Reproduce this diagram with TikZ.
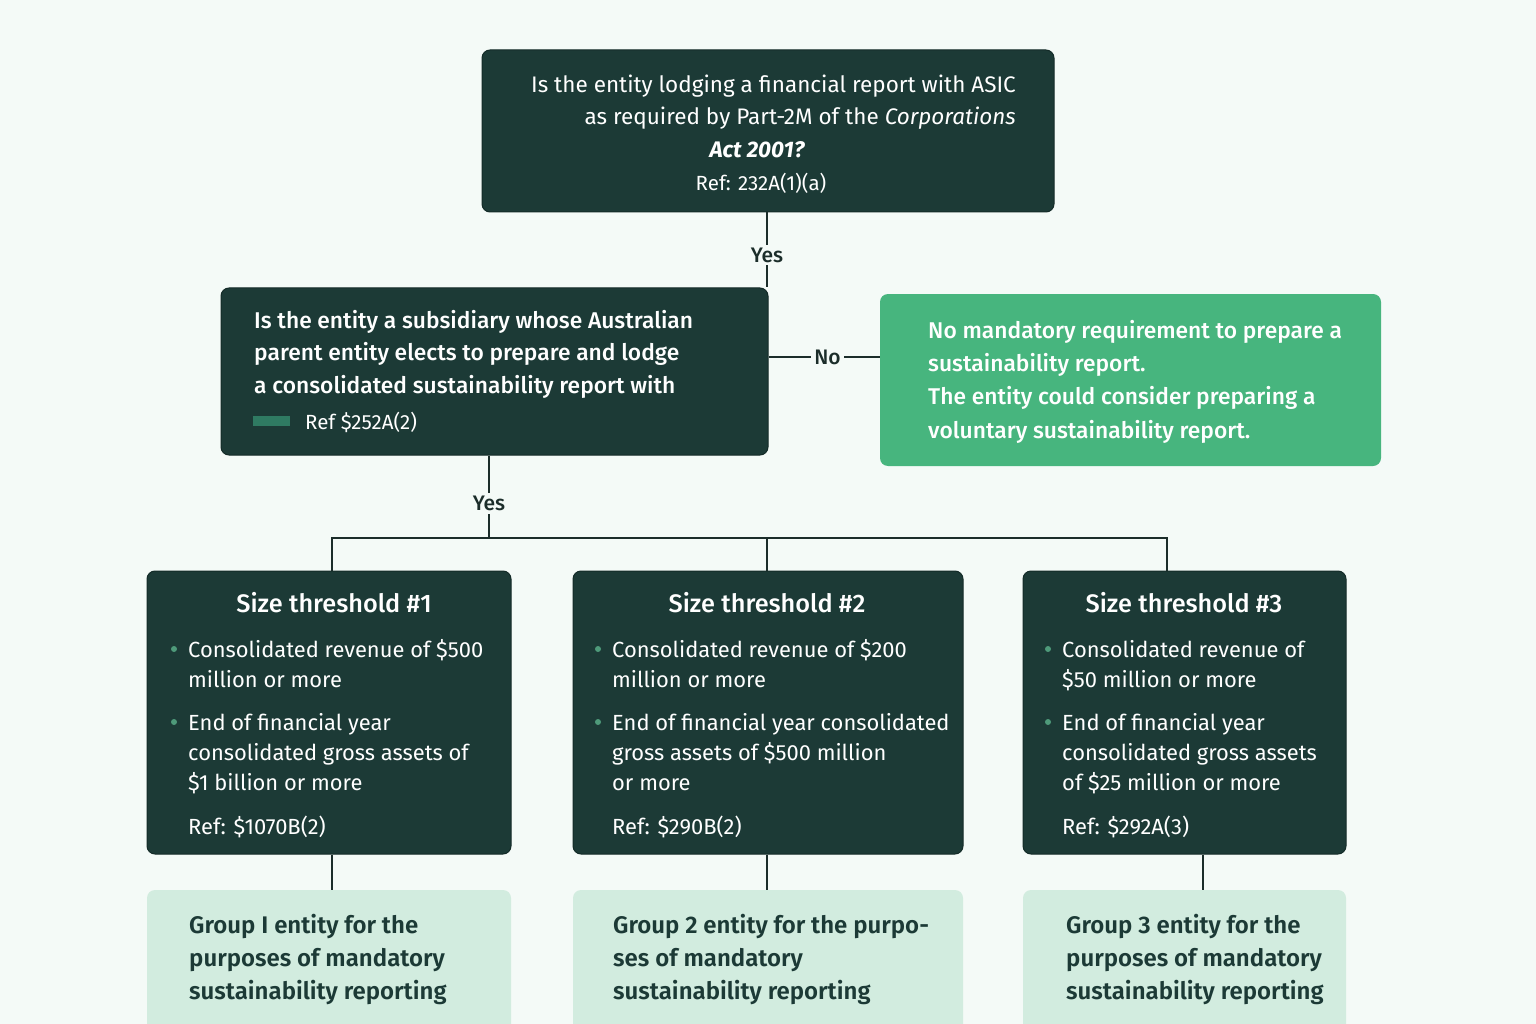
\documentclass[tikz,border=0pt]{standalone}
\usepackage{fontspec}
\setmainfont{Fira Sans}
\newfontfamily\fmed{Fira Sans Medium}
\newfontfamily\fsemi{Fira Sans SemiBold}
\definecolor{bgc}{HTML}{F4FAF7}
\definecolor{darkc}{HTML}{1C3A36}
\definecolor{darkedge}{HTML}{142B28}
\definecolor{greenc}{HTML}{47B57E}
\definecolor{lightc}{HTML}{D2ECDF}
\definecolor{linec}{HTML}{1B2D2A}
\definecolor{dotc}{HTML}{4E9A7A}
\definecolor{barc}{HTML}{2F7A62}
\tikzset{
  box/.style={rounded corners=8pt, inner sep=0pt},
  darkbox/.style={box, fill=darkc, draw=darkedge, line width=1pt},
  greenbox/.style={box, fill=greenc},
  lightbox/.style={box, fill=lightc},
  txt/.style={inner sep=0pt, text=white, align=left},
  conn/.style={draw=linec, line width=2.5pt},
  lbl/.style={fill=bgc, text=linec, inner sep=3pt, font=\fmed\fontsize{21}{24}\selectfont},
  dot/.style={circle, fill=dotc, inner sep=0pt, minimum size=6pt},
  bodyf/.style={font=\fontsize{21.9}{30}\selectfont},
  reff/.style={font=\fontsize{20.5}{24}\selectfont},
  titlef/.style={font=\fmed\fontsize{25.3}{28}\selectfont},
  groupf/.style={font=\fsemi\fontsize{24}{33}\selectfont, text=darkc},
}
\begin{document}
\begin{tikzpicture}[x=1pt,y=-1pt]
\useasboundingbox (0,0) rectangle (1536,1024);
\clip (0,0) rectangle (1536,1024);
\fill[bgc] (0,0) rectangle (1536,1024);

% top question (base anchor = last line's baseline)
\node[darkbox, minimum width=572pt, minimum height=162pt] (q1) at (768,131) {};
\node[txt, anchor=base east, align=right, font=\fontsize{22.5}{32}\selectfont] (q1a) at (1016,125)
  {Is the entity lodging a financial report with ASIC\\as required by Part-2M of the \textit{Corporations}};
\node[txt, anchor=base, font=\fontsize{22.5}{32}\selectfont\bfseries\itshape] (q1b) at (757,158) {Act 2001?};
\node[txt, anchor=base, reff] (q1c) at (761,191) {Ref: 232A(1)(a)};

% second question
\node[darkbox, minimum width=547pt, minimum height=167pt] (q2) at (494.5,371.5) {};
\node[txt, anchor=base west, font=\fmed\fontsize{22.8}{32.5}\selectfont] (q2a) at (254,393)
  {Is the entity a subsidiary whose Australian\\parent entity elects to prepare and lodge\\a consolidated sustainability report with};
\node[fill=barc, inner sep=0pt, minimum width=37pt, minimum height=10pt] (q2bar) at (271.5,421) {};
\node[txt, anchor=base west, reff] (q2b) at (305,429) {Ref \$252A(2)};

% no result
\node[greenbox, minimum width=501pt, minimum height=172pt] (res) at (1130.5,380) {};
\node[txt, anchor=base west, font=\fmed\fontsize{22.8}{33.3}\selectfont] (resa) at (928,438)
  {No mandatory requirement to prepare a\\sustainability report.\\The entity could consider preparing a\\voluntary sustainability report.};

% thresholds
\node[darkbox, minimum width=364pt, minimum height=283pt] (t1) at (329,712.5) {};
\node[darkbox, minimum width=390pt, minimum height=283pt] (t2) at (768,712.5) {};
\node[darkbox, minimum width=323pt, minimum height=283pt] (t3) at (1184.5,712.5) {};

\node[txt, anchor=base, titlef] (t1h) at (334,612) {Size threshold \#1};
\node[dot] (t1d1) at (174,649) {};
\node[txt, anchor=base west, bodyf] (t1a) at (188,687) {Consolidated revenue of \$500\\million or more};
\node[dot] (t1d2) at (174,722) {};
\node[txt, anchor=base west, bodyf] (t1b) at (188,790) {End of financial year\\consolidated gross assets of\\\$1 billion or more};
\node[txt, anchor=base west, bodyf] (t1r) at (188,834) {Ref: \$1070B(2)};

\node[txt, anchor=base, titlef] (t2h) at (767,612) {Size threshold \#2};
\node[dot] (t2d1) at (598,649) {};
\node[txt, anchor=base west, bodyf] (t2a) at (612,687) {Consolidated revenue of \$200\\million or more};
\node[dot] (t2d2) at (598,722) {};
\node[txt, anchor=base west, bodyf] (t2b) at (612,790) {End of financial year consolidated\\gross assets of \$500 million\\or more};
\node[txt, anchor=base west, bodyf] (t2r) at (612,834) {Ref: \$290B(2)};

\node[txt, anchor=base, titlef] (t3h) at (1184,612) {Size threshold \#3};
\node[dot] (t3d1) at (1048,649) {};
\node[txt, anchor=base west, bodyf] (t3a) at (1062,687) {Consolidated revenue of\\\$50 million or more};
\node[dot] (t3d2) at (1048,722) {};
\node[txt, anchor=base west, bodyf] (t3b) at (1062,790) {End of financial year\\consolidated gross assets\\of \$25 million or more};
\node[txt, anchor=base west, bodyf] (t3r) at (1062,834) {Ref: \$292A(3)};

% groups
\node[lightbox, minimum width=364pt, minimum height=170pt] (g1) at (329,975) {};
\node[lightbox, minimum width=390pt, minimum height=170pt] (g2) at (768,975) {};
\node[lightbox, minimum width=323pt, minimum height=170pt] (g3) at (1184.5,975) {};
\node[txt, anchor=base west, groupf] (g1a) at (189,999) {Group I entity for the\\purposes of mandatory\\sustainability reporting};
\node[txt, anchor=base west, groupf] (g2a) at (613,999) {Group 2 entity for the purpo-\\ses of mandatory\\sustainability reporting};
\node[txt, anchor=base west, groupf] (g3a) at (1066,999) {Group 3 entity for the\\purposes of mandatory\\sustainability reporting};

% connectors
\coordinate (nol) at (0,357);
\coordinate (bus) at (489,538);
\coordinate (d1) at (332,538);
\coordinate (d2) at (767,538);
\coordinate (d3) at (1167,538);
\coordinate (e1) at (332,0);
\coordinate (e2) at (767,0);
\coordinate (e3) at (1203,0);

\draw[conn] (q1.south -| e2) -- (e2 |- q2.north) node[lbl, pos=0.566] (yes1) {Yes};
\draw[conn] (q2.east |- nol) -- (res.west |- nol) node[lbl, pos=0.53] (no) {No};
\draw[conn] (q2.south -| bus) -- (bus) node[lbl, pos=0.58] (yes2) {Yes};
\draw[conn, line width=2pt] (d1 |- t1.north) -- (d1) -- (d3) -- (d3 |- t3.north);
\draw[conn, line width=2pt] (d2) -- (d2 |- t2.north);
\draw[conn] (e1 |- t1.south) -- (e1 |- g1.north);
\draw[conn] (e2 |- t2.south) -- (e2 |- g2.north);
\draw[conn] (e3 |- t3.south) -- (e3 |- g3.north);
\end{tikzpicture}
\end{document}
